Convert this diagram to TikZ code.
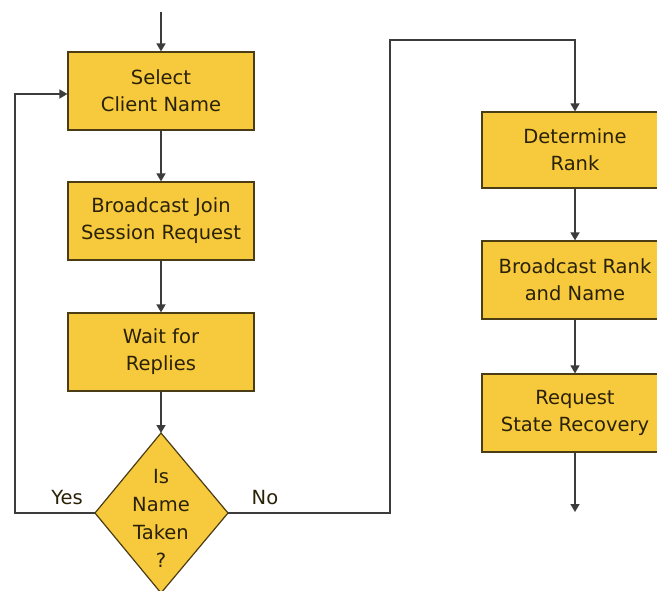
\documentclass[tikz,border=0pt]{standalone}
\usepackage{fontspec}
\setmainfont{DejaVu Sans}
\usetikzlibrary{arrows.meta}
\definecolor{boxfill}{HTML}{F7C93C}
\definecolor{boxedge}{HTML}{4A3C14}
\definecolor{txt}{HTML}{2A2208}
\definecolor{wire}{HTML}{3C3C3C}
\tikzset{
  stepbox/.style={draw=boxedge, fill=boxfill, line width=1.2pt, minimum width=186pt,
    minimum height=78pt, inner sep=0pt, align=center, text=txt,
    font=\fontsize{19.5}{27}\selectfont},
  lbl/.style={text=txt, font=\fontsize{19.5}{27}\selectfont, inner sep=0pt},
  arr/.style={draw=wire, line width=1.5pt, -{Triangle[length=8pt,width=9pt]}},
  ln/.style={draw=wire, line width=1.5pt}
}
\begin{document}
\begin{tikzpicture}[x=1pt,y=-1pt]
\useasboundingbox (0,0) rectangle (657,591);

% left column
\node[stepbox] (sel) at (161,91) {Select\\Client Name};
\node[stepbox] (bj)  at (161,221) {Broadcast Join\\Session Request};
\node[stepbox] (wr)  at (161,352) {Wait for\\Replies};

% decision diamond
\coordinate (dt) at (161,433);
\coordinate (dl) at (95,513);
\coordinate (dr) at (228,513);
\coordinate (db) at (161,593);
\filldraw[draw=boxedge, fill=boxfill, line width=1.2pt] (dt) -- (dr) -- (db) -- (dl) -- cycle;
\node[lbl, align=center, font=\fontsize{19.5}{28}\selectfont] (dq) at (161,518) {Is\\Name\\Taken\\?};

% right column
\node[stepbox, minimum height=76pt] (det) at (575,150) {Determine\\Rank};
\node[stepbox] (brn) at (575,280) {Broadcast Rank\\and Name};
\node[stepbox] (rsr) at (575,413) {Request\\State Recovery};

% connector end points and corners
\coordinate (entry) at (161,12);
\coordinate (loopc) at (15,513);
\coordinate (noc) at (390,40);
\coordinate (exitp) at (575,512);

% connectors
\draw[arr] (entry) -- (sel.north);
\draw[arr] (sel.south) -- (bj.north);
\draw[arr] (bj.south) -- (wr.north);
\draw[arr] (wr.south) -- (dt);
\draw[arr] (dl) -- (loopc) |- ([yshift=-3pt]sel.west);
\draw[arr] (dr) -| (noc) -| (det.north);
\draw[arr] (det.south) -- (brn.north);
\draw[arr] (brn.south) -- (rsr.north);
\draw[arr] (rsr.south) -- (exitp);

% branch labels
\node[lbl] (yes) at (67,498) {Yes};
\node[lbl] (no)  at (265,498) {No};
\end{tikzpicture}
\end{document}
